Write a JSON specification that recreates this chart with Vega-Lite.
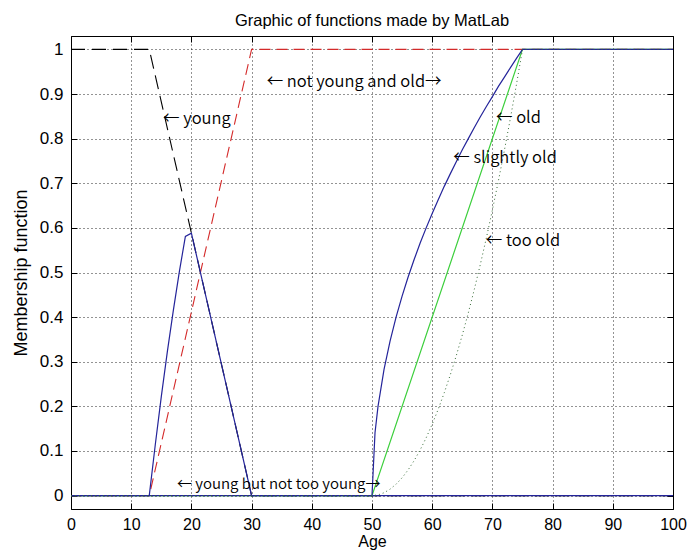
{
  "$schema": "https://vega.github.io/schema/vega-lite/v6.json",
  "width": 602,
  "height": 473,
  "autosize": {"type": "none"},
  "padding": {"left": 71, "top": 36, "right": 15, "bottom": 48},
  "background": "white",
  "config": {
    "view": {"stroke": null},
    "font": "Liberation Sans",
    "text": {"font": "Liberation Sans"}
  },
  "title": {
    "text": "Graphic of functions made by MatLab",
    "font": "Liberation Sans",
    "fontSize": 16.5,
    "fontWeight": "normal",
    "color": "#000",
    "anchor": "middle",
    "offset": 6
  },
  "datasets": {
    "curves": [
      {"fn": "young", "age": 0, "mu": 1},
      {"fn": "young", "age": 13, "mu": 1},
      {"fn": "young", "age": 30, "mu": 0},
      {"fn": "young", "age": 100, "mu": 0},

      {"fn": "not young", "age": 0, "mu": 0},
      {"fn": "not young", "age": 13, "mu": 0},
      {"fn": "not young", "age": 30, "mu": 1},
      {"fn": "not young", "age": 100, "mu": 1},

      {"fn": "young but not too young", "age": 0, "mu": 0},
      {"fn": "young but not too young", "age": 13, "mu": 0},
      {"fn": "young but not too young", "age": 14, "mu": 0.114},
      {"fn": "young but not too young", "age": 15, "mu": 0.222},
      {"fn": "young but not too young", "age": 16, "mu": 0.322},
      {"fn": "young but not too young", "age": 17, "mu": 0.415},
      {"fn": "young but not too young", "age": 18, "mu": 0.502},
      {"fn": "young but not too young", "age": 19, "mu": 0.581},
      {"fn": "young but not too young", "age": 20, "mu": 0.588},
      {"fn": "young but not too young", "age": 30, "mu": 0},
      {"fn": "young but not too young", "age": 100, "mu": 0},

      {"fn": "old", "age": 0, "mu": 0},
      {"fn": "old", "age": 50, "mu": 0},
      {"fn": "old", "age": 75, "mu": 1},
      {"fn": "old", "age": 100, "mu": 1},

      {"fn": "slightly old", "age": 0, "mu": 0},
      {"fn": "slightly old", "age": 50, "mu": 0},
      {"fn": "slightly old", "age": 50.5, "mu": 0.141},
      {"fn": "slightly old", "age": 51, "mu": 0.2},
      {"fn": "slightly old", "age": 52, "mu": 0.283},
      {"fn": "slightly old", "age": 53, "mu": 0.346},
      {"fn": "slightly old", "age": 54, "mu": 0.4},
      {"fn": "slightly old", "age": 55, "mu": 0.447},
      {"fn": "slightly old", "age": 56, "mu": 0.49},
      {"fn": "slightly old", "age": 57, "mu": 0.529},
      {"fn": "slightly old", "age": 58, "mu": 0.566},
      {"fn": "slightly old", "age": 59, "mu": 0.6},
      {"fn": "slightly old", "age": 60, "mu": 0.632},
      {"fn": "slightly old", "age": 61, "mu": 0.663},
      {"fn": "slightly old", "age": 62, "mu": 0.693},
      {"fn": "slightly old", "age": 63, "mu": 0.721},
      {"fn": "slightly old", "age": 64, "mu": 0.748},
      {"fn": "slightly old", "age": 65, "mu": 0.775},
      {"fn": "slightly old", "age": 66, "mu": 0.8},
      {"fn": "slightly old", "age": 67, "mu": 0.825},
      {"fn": "slightly old", "age": 68, "mu": 0.849},
      {"fn": "slightly old", "age": 69, "mu": 0.872},
      {"fn": "slightly old", "age": 70, "mu": 0.894},
      {"fn": "slightly old", "age": 71, "mu": 0.917},
      {"fn": "slightly old", "age": 72, "mu": 0.938},
      {"fn": "slightly old", "age": 73, "mu": 0.959},
      {"fn": "slightly old", "age": 74, "mu": 0.98},
      {"fn": "slightly old", "age": 75, "mu": 1},
      {"fn": "slightly old", "age": 100, "mu": 1},

      {"fn": "too old", "age": 0, "mu": 0},
      {"fn": "too old", "age": 50, "mu": 0},
      {"fn": "too old", "age": 51, "mu": 0.0016},
      {"fn": "too old", "age": 52, "mu": 0.0064},
      {"fn": "too old", "age": 53, "mu": 0.0144},
      {"fn": "too old", "age": 54, "mu": 0.0256},
      {"fn": "too old", "age": 55, "mu": 0.04},
      {"fn": "too old", "age": 56, "mu": 0.0576},
      {"fn": "too old", "age": 57, "mu": 0.0784},
      {"fn": "too old", "age": 58, "mu": 0.1024},
      {"fn": "too old", "age": 59, "mu": 0.1296},
      {"fn": "too old", "age": 60, "mu": 0.16},
      {"fn": "too old", "age": 61, "mu": 0.1936},
      {"fn": "too old", "age": 62, "mu": 0.2304},
      {"fn": "too old", "age": 63, "mu": 0.2704},
      {"fn": "too old", "age": 64, "mu": 0.3136},
      {"fn": "too old", "age": 65, "mu": 0.36},
      {"fn": "too old", "age": 66, "mu": 0.4096},
      {"fn": "too old", "age": 67, "mu": 0.4624},
      {"fn": "too old", "age": 68, "mu": 0.5184},
      {"fn": "too old", "age": 69, "mu": 0.5776},
      {"fn": "too old", "age": 70, "mu": 0.64},
      {"fn": "too old", "age": 71, "mu": 0.7056},
      {"fn": "too old", "age": 72, "mu": 0.7744},
      {"fn": "too old", "age": 73, "mu": 0.8464},
      {"fn": "too old", "age": 74, "mu": 0.9216},
      {"fn": "too old", "age": 75, "mu": 1},
      {"fn": "too old", "age": 100, "mu": 1}
    ],
    "notes": [
      {"label": "← young", "age": 15.3, "mu": 0.845, "long": false},
      {"label": "← not young and old→", "age": 32.5, "mu": 0.928, "long": false},
      {"label": "← old", "age": 70.6, "mu": 0.846, "long": false},
      {"label": "← slightly old", "age": 63.5, "mu": 0.756, "long": false},
      {"label": "← too old", "age": 68.9, "mu": 0.57, "long": false},
      {"label": "← young but not too young→", "age": 17.6, "mu": 0.026, "long": true}
    ]
  },
  "layer": [
    {
      "data": {"name": "curves"},
      "transform": [{"filter": "datum.fn === 'young'"}],
      "mark": {"type": "line", "color": "#000000", "strokeWidth": 1.1, "strokeDash": [14, 7], "clip": true},
      "encoding": {
        "x": {
          "field": "age", "type": "quantitative",
          "scale": {"domain": [0, 100], "nice": false, "zero": false},
          "axis": {
            "orient": "bottom",
            "title": "Age",
            "values": [0, 10, 20, 30, 40, 50, 60, 70, 80, 90, 100],
            "format": "d",
            "grid": true, "gridColor": "#000", "gridDash": [1, 3], "gridOpacity": 0.85, "gridWidth": 1,
            "tickSize": -6, "tickColor": "#000", "tickWidth": 1,
            "domainColor": "#000", "domainWidth": 1,
            "labelPadding": 13, "labelFont": "Liberation Sans", "labelFontSize": 16, "labelColor": "#000",
            "labelFlush": false, "labelOverlap": false,
            "titleFont": "Liberation Sans", "titleFontSize": 16, "titleFontWeight": "normal", "titleColor": "#000",
            "titlePadding": 1
          }
        },
        "y": {
          "field": "mu", "type": "quantitative",
          "scale": {"domain": [-0.03, 1.03], "nice": false, "zero": false},
          "axis": {
            "orient": "left",
            "title": "Membership function",
            "values": [0, 0.1, 0.2, 0.3, 0.4, 0.5, 0.6, 0.7, 0.8, 0.9, 1],
            "format": "~g",
            "grid": true, "gridColor": "#000", "gridDash": [1, 3], "gridOpacity": 0.85, "gridWidth": 1,
            "tickSize": -6, "tickColor": "#000", "tickWidth": 1,
            "domainColor": "#000", "domainWidth": 1,
            "labelPadding": 14, "labelFont": "Liberation Sans", "labelFontSize": 17, "labelColor": "#000",
            "labelFlush": false, "labelOverlap": false,
            "titleFont": "Liberation Sans", "titleFontSize": 18, "titleFontWeight": "normal", "titleColor": "#000",
            "titlePadding": 9
          }
        }
      }
    },
    {
      "data": {"name": "curves"},
      "transform": [{"filter": "datum.fn === 'not young'"}],
      "mark": {"type": "line", "color": "#d42a2a", "strokeWidth": 1.1, "strokeDash": [11, 6], "clip": true},
      "encoding": {
        "x": {
          "field": "age", "type": "quantitative",
          "scale": {"domain": [0, 100], "nice": false, "zero": false},
          "axis": {
            "orient": "top", "title": null, "labels": false, "grid": false,
            "values": [0, 10, 20, 30, 40, 50, 60, 70, 80, 90, 100],
            "tickSize": -6, "tickColor": "#000", "domainColor": "#000"
          }
        },
        "y": {
          "field": "mu", "type": "quantitative",
          "scale": {"domain": [-0.03, 1.03], "nice": false, "zero": false},
          "axis": {
            "orient": "right", "title": null, "labels": false, "grid": false,
            "values": [0, 0.1, 0.2, 0.3, 0.4, 0.5, 0.6, 0.7, 0.8, 0.9, 1],
            "tickSize": -6, "tickColor": "#000", "domainColor": "#000"
          }
        }
      }
    },
    {
      "data": {"name": "curves"},
      "transform": [{"filter": "datum.fn === 'young but not too young'"}],
      "mark": {"type": "line", "color": "#24249a", "strokeWidth": 1.2, "clip": true},
      "encoding": {
        "x": {"field": "age", "type": "quantitative", "axis": null},
        "y": {"field": "mu", "type": "quantitative", "axis": null}
      }
    },
    {
      "data": {"name": "curves"},
      "transform": [{"filter": "datum.fn === 'old'"}],
      "mark": {"type": "line", "color": "#3ccf3c", "strokeWidth": 1.2, "clip": true},
      "encoding": {
        "x": {"field": "age", "type": "quantitative", "axis": null},
        "y": {"field": "mu", "type": "quantitative", "axis": null}
      }
    },
    {
      "data": {"name": "curves"},
      "transform": [{"filter": "datum.fn === 'slightly old'"}],
      "mark": {"type": "line", "color": "#24249a", "strokeWidth": 1.2, "clip": true},
      "encoding": {
        "x": {"field": "age", "type": "quantitative", "axis": null},
        "y": {"field": "mu", "type": "quantitative", "axis": null}
      }
    },
    {
      "data": {"name": "curves"},
      "transform": [{"filter": "datum.fn === 'too old'"}],
      "mark": {"type": "line", "color": "#356b35", "strokeWidth": 1, "strokeDash": [1, 3], "clip": true},
      "encoding": {
        "x": {"field": "age", "type": "quantitative", "axis": null},
        "y": {"field": "mu", "type": "quantitative", "axis": null}
      }
    },
    {
      "data": {"name": "notes"},
      "transform": [{"filter": "!datum.long"}],
      "mark": {"type": "text", "align": "left", "baseline": "middle", "font": "Noto Sans CJK JP", "fontSize": 16.5, "fontWeight": 350, "color": "#000"},
      "encoding": {
        "x": {"field": "age", "type": "quantitative", "axis": null},
        "y": {"field": "mu", "type": "quantitative", "axis": null},
        "text": {"field": "label"}
      }
    },
    {
      "data": {"name": "notes"},
      "transform": [{"filter": "datum.long"}],
      "mark": {"type": "text", "align": "left", "baseline": "middle", "font": "Noto Sans CJK JP", "fontSize": 15, "fontWeight": 350, "color": "#000"},
      "encoding": {
        "x": {"field": "age", "type": "quantitative", "axis": null},
        "y": {"field": "mu", "type": "quantitative", "axis": null},
        "text": {"field": "label"}
      }
    }
  ],
  "resolve": {"axis": {"x": "independent", "y": "independent"}}
}
